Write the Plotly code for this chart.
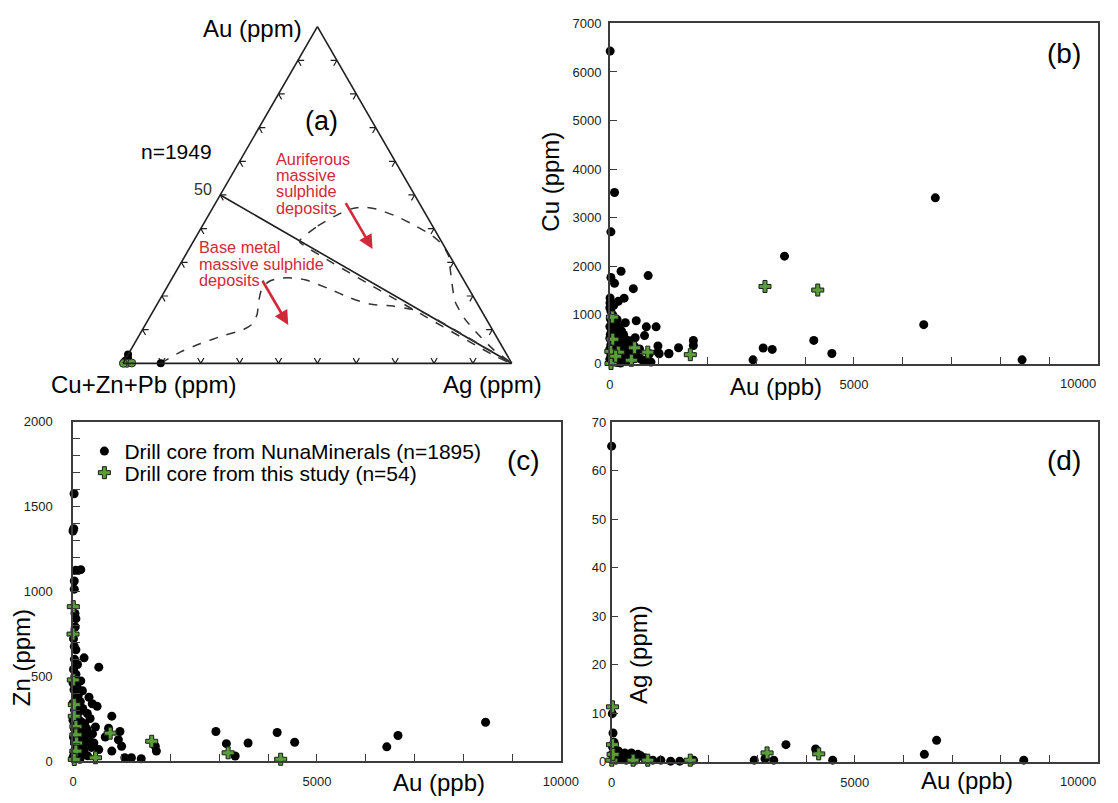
import plotly.graph_objects as go

W, H = 1118, 803
FONT = "Liberation Sans, Arial, sans-serif"
TICKFONT = "Liberation Sans Narrow, Arial Narrow, Liberation Sans, Arial, sans-serif"
RED = "#d3283a"
GREEN = "#5a9e3a"
AXIS = "#3c3c3c"

# ---------------- (a) ternary: Au / Cu+Zn+Pb / Ag (percent of sum) ----------------
tern_nuna_au = [2.6, 1.4, 0.5, 0.2, 0.8, 0.0]
tern_nuna_base = [97.4, 98.0, 99.3, 99.7, 99.0, 90.3]
tern_nuna_ag = [0.0, 0.6, 0.2, 0.1, 0.2, 9.7]
tern_study_au = [0.0, 0.1, 0.0]
tern_study_base = [99.0, 97.7, 99.9]
tern_study_ag = [1.0, 2.2, 0.1]

# divider from Au = 50 on the Au-(Cu+Zn+Pb) side to the Ag apex
divider_au = [50, 0]
divider_ag = [0, 100]

# field of auriferous massive sulphide deposits (Au %, Ag %)
aurif_au = [36.5, 40.8, 44.1, 45.8, 46.4, 45.8, 43.7, 40.8, 37.9, 35.4, 32.0, 28.1,
            24.3, 18.4, 13.2, 8.2, 3.9, 0.0, 2.0, 19.3, 35.9, 36.5]
aurif_ag = [27.2, 29.7, 33.1, 35.6, 38.7, 42.3, 48.4, 54.9, 60.6, 64.3, 67.7, 70.1,
            72.4, 76.2, 81.3, 87.6, 93.5, 100.0, 95.0, 60.0, 27.6, 27.2]
# field of base metal massive sulphide deposits (Au %, Ag %)
basef_au = [0.0, 3.4, 5.8, 8.2, 9.9, 11.6, 14.6, 18.4, 22.3, 24.3, 25.2, 25.4, 24.8,
            22.3, 19.4, 17.6, 17.0, 16.0, 15.0, 0.0]
basef_ag = [9.7, 13.1, 16.9, 21.6, 25.8, 27.4, 27.2, 25.7, 24.6, 25.4, 27.4, 29.8, 34.4,
            41.5, 48.8, 54.7, 60.9, 66.5, 69.9, 100.0]

# ---------------- (b) Cu vs Au ----------------
b_nuna_au = [7, 96, 22, 6667, 3578, 230, 785, 22, 96, 481, 6430, 4178, 4548, 3141, 3326,
             2933, 8444, 1711, 1711, 1407, 1207, 985, 985, 948, 748, 541, 318, 711, 519,
             293, 173, 4, 809, 608, 406, 239, 1010, 1211, 843, 708, 507, 306,
             0, 20, 60, 10, 40, 80, 0, 30, 120, 60, 10, 100, 150, 0, 40, 90, 140, 200,
             250, 20, 70, 120, 180, 230, 300, 350, 0, 50, 100, 160, 210, 280, 330, 390,
             440, 20, 70, 130, 190, 250, 310, 370, 0, 50, 100, 160, 220, 10, 400, 450,
             520, 600, 650, 700, 500, 560, 30, 80, 5, 150, 180, 230, 280, 320, 380, 420, 470]
b_nuna_cu = [6430, 3520, 2710, 3410, 2210, 1900, 1810, 1770, 1650, 1540, 800, 475, 205, 320,
             290, 75, 75, 475, 370, 325, 205, 360, 235, 755, 755, 880, 840, 575, 530,
             1345, 1280, 1245, 200, 300, 470, 670, 200, 200, 30, 65, 100, 135,
             1150, 1080, 1000, 920, 860, 800, 760, 700, 690, 640, 600, 580, 560, 520, 480,
             460, 430, 420, 400, 380, 350, 330, 300, 280, 260, 240, 300, 250, 220, 190,
             170, 150, 130, 110, 100, 180, 140, 100, 80, 60, 50, 40, 90, 60, 30, 20, 10,
             30, 300, 200, 150, 120, 80, 60, 350, 280, 1250, 1200, 1350, 900, 760, 650,
             600, 500, 420, 380, 300]
b_study_au = [52, 507, 777, 441, 24, 173, 1648, 3178, 4259, 60, 20, 120]
b_study_cu = [956, 323, 234, 67, 0, 234, 182, 1586, 1512, 500, 250, 150]

# ---------------- (c) Zn vs Au ----------------
c_nuna_au = [22, 15, 0, 57, 159, 26, 26, 59, 46, 26, 59, 227, 528, 92, 59, 159, 193, 327,
             394, 494, 795, 293, 127, 729, 962, 930, 996, 661, 428, 528, 795, 1062, 1197,
             1398, 1687, 1709, 259, 227, 59, 8457, 2929, 4185, 6662, 6432, 4544, 3589,
             3144, 3324,
             10, 40, 0, 80, 20, 110, 50, 0, 150, 90, 30, 200, 130, 60, 0, 170, 100, 240,
             30, 140, 280, 70, 200, 10, 110, 330, 250, 50, 170, 380, 20, 100, 220, 300,
             140, 60, 0, 400, 460, 350, 30, 10, 40]
c_nuna_zn = [1576, 1369, 1356, 1124, 1128, 1061, 1013, 839, 790, 675, 656, 608, 553, 569,
             511, 472, 414, 376, 337, 322, 264, 280, 241, 193, 174, 125, 87, 141, 106, 67,
             58, 19, 19, 13, 87, 58, 164, 67, 106, 228, 174, 168, 150, 83, 110, 106, 102, 29,
             540, 500, 460, 440, 420, 390, 370, 340, 350, 320, 300, 310, 290, 260, 240,
             230, 210, 220, 190, 180, 190, 160, 150, 140, 120, 130, 110, 90, 80, 80, 50,
             40, 40, 30, 10, 15, 20, 160, 200, 250, 600, 720, 870]
c_study_au = [6, 0, 6, 26, 26, 59, 59, 72, 59, 26, 461, 762, 1613, 3180, 4257]
c_study_zn = [910, 748, 478, 332, 264, 203, 154, 106, 58, 9, 19, 164, 116, 48, 10]

# ---------------- (d) Ag vs Au ----------------
d_nuna_au = [0, 14, 29, 3584, 6681, 4194, 6430, 8473, 4545, 2932, 3154, 3333, 139, 272,
             407, 542, 240, 675, 845, 1012, 1214, 1401, 105, 474, 1684,
             20, 60, 10, 180, 330, 600, 20, 90, 300, 500, 700, 150, 50]
d_nuna_ag = [65.1, 9.9, 5.9, 3.5, 4.4, 2.6, 1.5, 0.3, 0.3, 0.3, 0.6, 0.3, 2.2, 1.8,
             1.8, 1.5, 0.8, 0.8, 0.3, 0.3, 0.1, 0.1, 1.2, 0.8, 0.3,
             3.0, 2.5, 1.5, 1.2, 1.0, 1.2, 0.4, 0.3, 0.3, 0.3, 0.4, 0.5, 4.0]
d_study_au = [18, 18, 4, 442, 744, 1617, 3196, 4258, 30]
d_study_ag = [11.3, 3.5, 0.3, 0.3, 0.3, 0.3, 1.8, 1.6, 1.5]

# x-axis ticks shared by the scatter panels
au_tickvals = list(range(0, 10001, 1000))
au_ticktext = ["0", "", "", "", "", "5000", "", "", "", "", ""]
au_ticktext_full = ["0", "", "", "", "", "5000", "", "", "", "", "10000"]


def px(x):
    return x / W


def py(y):
    return 1 - y / H


fig = go.Figure()

# ---- ternary frame ticks: two short stubs per tick, parallel to the grid directions
L = 1.6
ta, tb, tc = [], [], []
for t in range(10, 100, 10):
    for a, b, c in [(t, 100 - t - L, L), (t, 100 - t, 0), (t - L, 100 - t, L)]:
        ta.append(a); tb.append(b); tc.append(c)
    ta.append(None); tb.append(None); tc.append(None)
    for a, b, c in [(L, 100 - t, t - L), (0, 100 - t, t), (L, 100 - t - L, t)]:
        ta.append(a); tb.append(b); tc.append(c)
    ta.append(None); tb.append(None); tc.append(None)
    for a, b, c in [(t, L, 100 - t - L), (t, 0, 100 - t), (t - L, L, 100 - t)]:
        ta.append(a); tb.append(b); tc.append(c)
    ta.append(None); tb.append(None); tc.append(None)

fig.add_trace(go.Scatterternary(a=ta, b=tb, c=tc, mode="lines",
                                line=dict(color="#1e1e1e", width=1.2),
                                showlegend=False, hoverinfo="skip"))

fig.add_trace(go.Scatterternary(
    a=divider_au, b=[100 - a - g for a, g in zip(divider_au, divider_ag)], c=divider_ag,
    mode="lines", line=dict(color="#1e1e1e", width=1.6), showlegend=False, hoverinfo="skip"))

for fa, fg in [(aurif_au, aurif_ag), (basef_au, basef_ag)]:
    fig.add_trace(go.Scatterternary(
        a=fa, b=[100 - a - g for a, g in zip(fa, fg)], c=fg, mode="lines",
        line=dict(color="#333333", width=1.5, dash="dash", shape="spline", smoothing=0.6),
        showlegend=False, hoverinfo="skip"))

fig.add_trace(go.Scatterternary(a=tern_nuna_au, b=tern_nuna_base, c=tern_nuna_ag,
                                mode="markers", cliponaxis=False,
                                marker=dict(color="black", size=8),
                                showlegend=False, hoverinfo="skip"))
fig.add_trace(go.Scatterternary(a=tern_study_au, b=tern_study_base, c=tern_study_ag,
                                mode="markers", cliponaxis=False,
                                marker=dict(color=GREEN, size=8, symbol="circle",
                                            line=dict(color="#2a2a2a", width=1)),
                                showlegend=False, hoverinfo="skip"))

# ---- scatter panels
panels = [
    ("x2", "y2", b_nuna_au, b_nuna_cu, b_study_au, b_study_cu),
    ("x3", "y3", c_nuna_au, c_nuna_zn, c_study_au, c_study_zn),
    ("x4", "y4", d_nuna_au, d_nuna_ag, d_study_au, d_study_ag),
]
for i, (xa, ya, nx, ny, sx, sy) in enumerate(panels):
    fig.add_trace(go.Scatter(x=nx, y=ny, xaxis=xa, yaxis=ya, mode="markers",
                             cliponaxis=False,
                             marker=dict(color="black", size=9),
                             name="Drill core from NunaMinerals (n=1895)",
                             showlegend=(i == 1), legend="legend"))
    fig.add_trace(go.Scatter(x=sx, y=sy, xaxis=xa, yaxis=ya, mode="markers",
                             cliponaxis=False,
                             marker=dict(color=GREEN, size=10, symbol="cross",
                                         line=dict(color="#1a1a1a", width=1)),
                             name="Drill core from this study (n=54)",
                             showlegend=(i == 1), legend="legend2"))


def xaxis(dom, labels, anchor):
    return dict(domain=dom, anchor=anchor, range=[0, 10000], tickvals=au_tickvals,
                ticktext=labels,
                ticks="inside", ticklen=7, tickwidth=1.3, tickcolor=AXIS,
                showline=True, linecolor=AXIS, linewidth=1.6, mirror=True,
                showgrid=False, zeroline=False, ticklabelstandoff=8,
                tickfont=dict(family=TICKFONT, size=13, color="#222"))


def yaxis(dom, anchor, rng, vals, text, standoff):
    return dict(domain=dom, anchor=anchor, range=rng, tickvals=vals, ticktext=text,
                ticks="inside", ticklen=7, tickwidth=1.3, tickcolor=AXIS,
                showline=True, linecolor=AXIS, linewidth=1.6, mirror=True,
                showgrid=False, zeroline=False, ticklabelstandoff=standoff,
                tickfont=dict(family=TICKFONT, size=13, color="#222"))


b_yvals = list(range(0, 7001, 1000))
c_yvals = list(range(0, 2001, 100))
c_ytext = [str(v) if v % 500 == 0 else "" for v in c_yvals]
d_yvals = list(range(0, 71, 10))

ann = []


def label(text, x, y, size, color="black", angle=0, xanchor="center", family=FONT):
    ann.append(dict(text=text, x=px(x), y=py(y), xref="paper", yref="paper",
                    showarrow=False, textangle=angle, xanchor=xanchor, yanchor="middle",
                    font=dict(family=family, size=size, color=color)))


# ternary labels
label("Au (ppm)", 253.5, 22, 24)
label("Cu+Zn+Pb (ppm)", 142.7, 385, 24)
label("Ag (ppm)", 498, 385, 24)
label("(a)", 324, 116, 27)
label("n=1949", 176, 147, 21)
label("50", 202.5, 186, 16, color="#333")
for i, t in enumerate(["Auriferous", "massive", "sulphide", "deposits"]):
    label(t, 275, 155 + 16.5 * i, 16.3, color=RED, xanchor="left")
for i, t in enumerate(["Base metal", "massive sulphide", "deposits"]):
    label(t, 196.4, 245 + 16.6 * i, 16.3, color=RED, xanchor="left")
for (hx, hy), (tx, ty) in [((376, 246.7), (348.3, 199.3)), ((290, 324), (263.3, 278.3))]:
    ann.append(dict(x=px(hx), y=py(hy), xref="paper", yref="paper", text="",
                    showarrow=True, ax=tx - hx, ay=ty - hy, arrowhead=2, arrowsize=1.1,
                    arrowwidth=2.6, arrowcolor=RED, standoff=0))

# panel labels and axis titles
label("(b)", 1081, 47, 28)
label("(c)", 530, 462, 28)
label("(d)", 1081, 462, 28)
label("Cu (ppm)", 558, 178, 24, angle=-90)
label("Au (ppb)", 788, 387, 24)
label("Zn (ppm)", 18, 663, 24, angle=-90)
label("Au (ppb)", 444, 790, 24)
label("Ag (ppm)", 647, 660, 24, angle=-90)
label("Au (ppb)", 982, 788, 24)

# right-aligned end labels of the Au axes in (b) and (d)
for xa, ya in [("x2", "y2"), ("x4", "y4")]:
    ann.append(dict(text="10000", x=10000, y=0, xref=xa, yref=ya, showarrow=False,
                    xanchor="right", yanchor="top", yshift=-10,
                    font=dict(family=TICKFONT, size=13, color="#222")))

fig.update_layout(
    width=W, height=H, autosize=False,
    margin=dict(l=0, r=0, t=0, b=0),
    paper_bgcolor="white", plot_bgcolor="white",
    font=dict(family=FONT, color="black"),
    ternary=dict(
        domain=dict(x=[px(121.4), px(518)], y=[py(363.3), py(19.8)]),
        sum=100, bgcolor="rgba(0,0,0,0)",
        aaxis=dict(showticklabels=False, ticks="", showgrid=False,
                   linecolor="#1e1e1e", linewidth=1.6, title=dict(text="")),
        baxis=dict(showticklabels=False, ticks="", showgrid=False,
                   linecolor="#1e1e1e", linewidth=1.6, title=dict(text="")),
        caxis=dict(showticklabels=False, ticks="", showgrid=False,
                   linecolor="#1e1e1e", linewidth=1.6, title=dict(text="")),
    ),
    xaxis2=xaxis([px(618), px(1116)], au_ticktext, "y2"),
    yaxis2=yaxis([py(363.3), py(16.7)], "x2", [0, 7000], b_yvals,
                 [str(v) for v in b_yvals], 4),
    xaxis3=xaxis([px(70.4), px(568)], au_ticktext_full, "y3"),
    yaxis3=yaxis([py(768.3), py(422.7)], "x3", [0, 2000], c_yvals, c_ytext, 16),
    xaxis4=xaxis([px(619.8), px(1116)], au_ticktext, "y4"),
    yaxis4=yaxis([py(769), py(423.3)], "x4", [0, 70], d_yvals,
                 [str(v) for v in d_yvals], 1),
    legend=dict(x=px(82), y=py(432), xanchor="left", yanchor="top",
                bgcolor="rgba(0,0,0,0)", borderwidth=0,
                font=dict(family=FONT, size=21, color="black")),
    legend2=dict(x=px(82), y=py(454), xanchor="left", yanchor="top",
                 bgcolor="rgba(0,0,0,0)", borderwidth=0,
                 font=dict(family=FONT, size=21, color="black")),
    annotations=ann,
    showlegend=True,
)

fig.write_html("out.html")
